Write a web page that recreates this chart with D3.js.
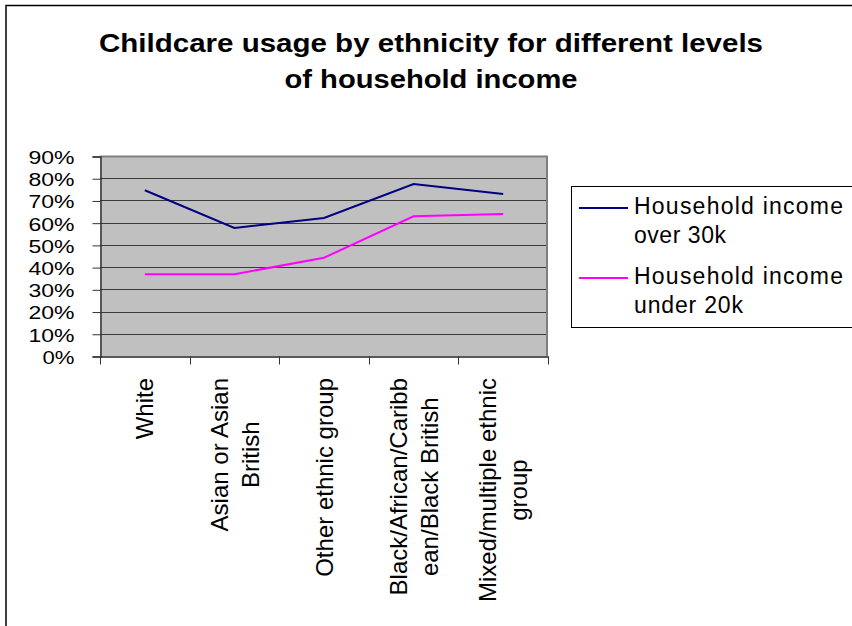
<!DOCTYPE html>
<html>
<head>
<meta charset="utf-8">
<script src="https://cdn.jsdelivr.net/npm/d3@7"></script>
<style>
  html, body { margin: 0; padding: 0; background: #fff; }
  svg { display: block; font-family: "Liberation Sans", Arial, sans-serif; }
</style>
</head>
<body>
<svg id="chart" width="852" height="626"></svg>
<script>
// Ethnic groups along the x axis (each label split into its display lines)
const categories = [
  "White",
  "Asian or Asian British",
  "Other ethnic group",
  "Black/African/Caribbean/Black British",
  "Mixed/multiple ethnic group"
];
const categoryLines = [
  ["White"],
  ["Asian or Asian", "British"],
  ["Other ethnic group"],
  ["Black/African/Caribb", "ean/Black British"],
  ["Mixed/multiple ethnic", "group"]
];

// Share of families using childcare (%)
const over30k  = [74.6, 57.6, 62.1, 77.4, 72.9];
const under20k = [36.8, 36.8, 44.2, 62.9, 63.9];

const seriesNames  = ["Household income over 30k", "Household income under 20k"];
const legendLines  = [["Household income", "over 30k"], ["Household income", "under 20k"]];
const yTicks       = [0, 10, 20, 30, 40, 50, 60, 70, 80, 90];

const titleLines = ["Childcare usage by ethnicity for different levels", "of household income"];

const svg = d3.select("#chart");

// Chart-area frame (extends past the right and bottom edges)
svg.append("rect")
  .attr("x", 6).attr("y", 5.5)
  .attr("width", 1000).attr("height", 1000)
  .attr("fill", "#fff")
  .attr("stroke", "#000").attr("stroke-width", 1.5);

// Title
const title = svg.append("text")
  .attr("font-weight", "bold")
  .attr("font-size", 26)
  .attr("text-anchor", "middle")
  .attr("fill", "#000");
const titleW = [664, 293];
titleLines.forEach((t, i) => {
  title.append("tspan")
    .attr("x", 431).attr("y", 52 + i * 36)
    .attr("textLength", titleW[i])
    .attr("lengthAdjust", "spacingAndGlyphs")
    .text(t);
});

// Plot area
const plot = { left: 100, right: 548, top: 156, bottom: 356 };

const x = d3.scaleBand()
  .domain(categories)
  .range([plot.left, plot.right])
  .paddingInner(0).paddingOuter(0);

const y = d3.scaleLinear()
  .domain([0, 90])
  .range([plot.bottom, plot.top]);

svg.append("rect")
  .attr("x", plot.left).attr("y", plot.top)
  .attr("width", plot.right - plot.left)
  .attr("height", plot.bottom - plot.top)
  .attr("fill", "#c0c0c0");

// Horizontal gridlines
svg.append("g")
  .selectAll("line")
  .data(yTicks.filter(d => d > 0 && d < 90))
  .join("line")
  .attr("x1", plot.left).attr("x2", plot.right)
  .attr("y1", d => Math.round(y(d)) + 0.5)
  .attr("y2", d => Math.round(y(d)) + 0.5)
  .attr("stroke", "#3a3a3a").attr("stroke-width", 1);

// Top and right border of the plot
svg.append("path")
  .attr("d", `M${plot.left},${plot.top + 0.5}H${plot.right - 1}V${plot.bottom}`)
  .attr("fill", "none")
  .attr("stroke", "#808080").attr("stroke-width", 2);

// Y axis
const yAxis = d3.axisLeft(y)
  .tickValues(yTicks)
  .tickSize(8)
  .tickPadding(18)
  .tickFormat(d => d + "%");
const gy = svg.append("g")
  .attr("transform", `translate(${plot.left + 0.5},0.5)`)
  .call(yAxis);
gy.select(".domain").attr("stroke", "#333").attr("stroke-width", 1.5);
gy.selectAll(".tick line").attr("stroke", "#333");
gy.selectAll(".tick text")
  .attr("font-size", 19)
  .attr("font-family", "Liberation Sans, Arial, sans-serif")
  .attr("fill", "#000")
  .attr("dy", "0.36em")
  .attr("textLength", d => d === 0 ? 32 : 46)
  .attr("lengthAdjust", "spacingAndGlyphs");

// X axis: ticks at category boundaries
const xAxis = d3.axisBottom(x).tickSize(0).tickFormat("");
const gx = svg.append("g")
  .attr("transform", `translate(0,${plot.bottom + 0.5})`)
  .call(xAxis);
gx.select(".domain").attr("stroke", "#222").attr("stroke-width", 1.5);
gx.selectAll(".tick").remove();
const bounds = categories.map(c => x(c)).concat([x.range()[1]]);
gx.selectAll("line.bound")
  .data(bounds)
  .join("line")
  .attr("class", "bound")
  .attr("x1", d => Math.round(d) + 0.5).attr("x2", d => Math.round(d) + 0.5)
  .attr("y1", 0).attr("y2", 8)
  .attr("stroke", "#333");

// Category labels, rotated and centred on each band
const labelTop = 378;
const lineGap = 31;
categories.forEach((c, i) => {
  const lines = categoryLines[i];
  const g = svg.append("g")
    .attr("transform", `translate(${x(c) + x.bandwidth() / 2},${labelTop}) rotate(-90)`);
  const texts = lines.map((ln, j) => g.append("text")
    .attr("font-size", 24)
    .attr("text-anchor", "middle")
    .attr("fill", "#000")
    .attr("y", (j - (lines.length - 1) / 2) * lineGap)
    .attr("dy", "0.36em")
    .text(ln));
  const maxW = d3.max(texts, t => t.node().getComputedTextLength());
  texts.forEach(t => t.attr("x", -maxW / 2));
});

// Series lines
const colors = ["#000080", "#ff00ff"];
const seriesData = [over30k, under20k];
const line = d3.line()
  .x((d, i) => x(categories[i]) + x.bandwidth() / 2)
  .y(d => y(d));
seriesData.forEach((vals, k) => {
  svg.append("path")
    .datum(vals)
    .attr("fill", "none")
    .attr("stroke", colors[k])
    .attr("stroke-width", 2)
    .attr("d", line);
});

// Legend
svg.append("rect")
  .attr("x", 571.5).attr("y", 186.5)
  .attr("width", 400).attr("height", 141)
  .attr("fill", "#fff")
  .attr("stroke", "#000").attr("stroke-width", 1);

const legendW = [[209, 92], [209, 109]];
seriesNames.forEach((name, k) => {
  const top = 186 + k * 70;
  svg.append("line")
    .attr("x1", 579).attr("x2", 628)
    .attr("y1", top + 22).attr("y2", top + 22)
    .attr("stroke", colors[k]).attr("stroke-width", 2);
  const t = svg.append("text")
    .attr("font-size", 23)
    .attr("fill", "#000");
  legendLines[k].forEach((ln, j) => {
    t.append("tspan")
      .attr("x", 634)
      .attr("y", top + 28 + j * 29)
      .attr("textLength", legendW[k][j])
      .attr("lengthAdjust", "spacing")
      .text(ln);
  });
});
</script>
</body>
</html>
